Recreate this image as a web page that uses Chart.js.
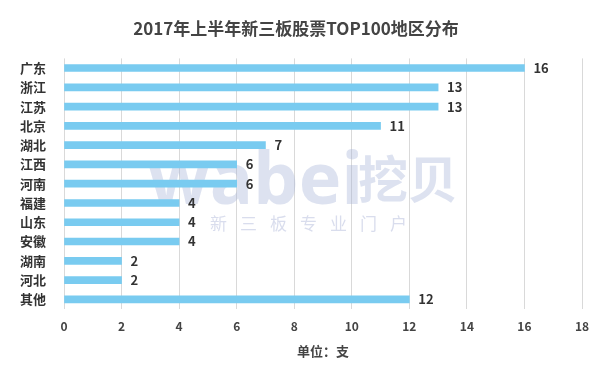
<!DOCTYPE html>
<html><head><meta charset="utf-8">
<script src="https://cdn.jsdelivr.net/npm/chart.js@4/dist/chart.umd.min.js"></script>
<style>html,body{margin:0;padding:0;background:#fff}#wrap{width:605px;height:379px}</style>
</head><body><div id="wrap"><canvas id="c" width="605" height="379"></canvas></div>
<script>
const categories = ["广东","浙江","江苏","北京","湖北","江西","河南","福建","山东","安徽","湖南","河北","其他"];
const values = [16,13,13,11,7,6,6,4,4,4,2,2,12];
const xTicks = [0,2,4,6,8,10,12,14,16,18];
const titleText = "2017年上半年新三板股票TOP100地区分布";
const xTitle = "单位：支";

const FONT = '"Noto Sans CJK SC","Noto Sans",sans-serif';

const watermark = {
  id:'watermark',
  beforeDatasetsDraw(chart){
    const ctx = chart.ctx;
    ctx.save();
    ctx.fillStyle = 'rgba(165,178,215,0.38)';
    ctx.font = 'bold 72px "Open Sans",sans-serif';
    ctx.textBaseline = 'alphabetic';
    ctx.textAlign = 'left';
    ctx.fillText('wabei', 148, 204);
    ctx.font = 'bold 50px ' + FONT;
    ctx.fillText('挖贝', 358, 198);
    ctx.font = '17px ' + FONT;
    ctx.fillStyle = 'rgba(170,180,215,0.45)';
    const s = '新三板专业门户';
    for (let i=0;i<s.length;i++) ctx.fillText(s[i], 210 + i*30, 230);
    ctx.restore();
  }
};

const dataLabels = {
  id:'dataLabels',
  afterDatasetsDraw(chart){
    const ctx = chart.ctx;
    const meta = chart.getDatasetMeta(0);
    ctx.save();
    ctx.font = 'bold 13px ' + FONT;
    ctx.fillStyle = '#333';
    ctx.textAlign = 'left';
    ctx.textBaseline = 'middle';
    meta.data.forEach((bar,i)=>{
      ctx.fillText(String(values[i]), bar.x + 9, bar.y);
    });
    ctx.restore();
  }
};

new Chart(document.getElementById('c'), {
  type:'bar',
  data:{labels:categories, datasets:[{data:values, backgroundColor:'#79CBF0', barThickness:7}]},
  options:{
    indexAxis:'y',
    responsive:false,
    animation:false,
    devicePixelRatio:1,
    layout:{padding:{left:10,right:23,top:0,bottom:16}},
    plugins:{
      legend:{display:false},
      tooltip:{enabled:false},
      title:{display:true, text:titleText, color:'#444', font:{family:FONT, size:17, weight:'bold'}, padding:{top:18,bottom:20}}
    },
    scales:{
      x:{
        min:0,max:18,
        afterBuildTicks(s){ s.ticks = xTicks.map(v=>({value:v})); },
        grid:{color:'#d9d9d9', drawTicks:false},
        border:{display:false},
        ticks:{color:'#444', font:{family:FONT,size:12,weight:'bold'}, padding:10},
        title:{display:true, text:xTitle, color:'#444', font:{family:FONT,size:13,weight:'bold'}, padding:{top:0}}
      },
      y:{
        grid:{display:false, drawTicks:false},
        border:{display:false},
        ticks:{color:'#333', font:{family:FONT,size:13,weight:'bold'}, padding:18},
        afterFit(s){ s.width = 54; }
      }
    }
  },
  plugins:[watermark, dataLabels]
});
</script></body></html>
